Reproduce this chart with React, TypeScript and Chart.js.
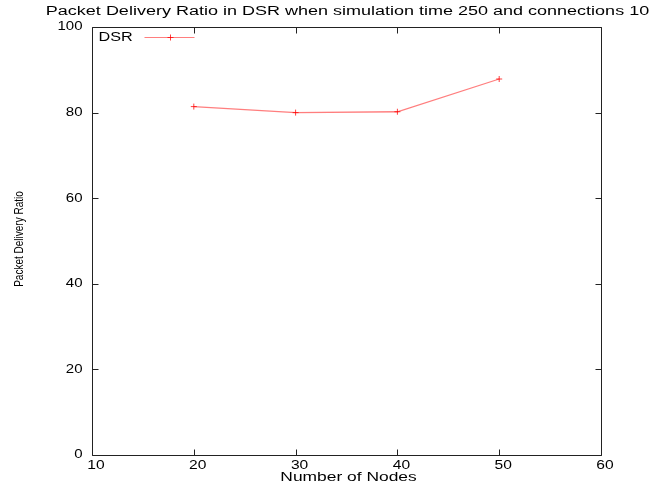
import React, { useEffect, useRef } from "react";
import { Chart, registerables } from "chart.js";

Chart.register(...registerables);

const nodes = [20, 30, 40, 50];
const pdr = [81.4, 80.0, 80.2, 87.85];
const xTicks = [10, 20, 30, 40, 50, 60];
const yTicks = [0, 20, 40, 60, 80, 100];
const titleText = "Packet Delivery Ratio in DSR when simulation time 250 and connections 10";
const xLabel = "Number of Nodes";
const yLabel = "Packet Delivery Ratio";
const seriesName = "DSR";

const FONT = "Liberation Sans, Arial, sans-serif";
const SX = 1.35;
const LINE_COLOR = "rgba(255,40,40,0.6)";
const MARK_COLOR = "rgba(255,0,0,0.75)";

function drawText(
  ctx: CanvasRenderingContext2D,
  text: string,
  x: number,
  y: number,
  opts: { size?: number; align?: CanvasTextAlign; baseline?: CanvasTextBaseline; sx?: number; rotate?: boolean }
) {
  const { size = 12, align = "center", baseline = "middle", sx = SX, rotate = false } = opts;
  ctx.save();
  ctx.translate(x, y);
  if (rotate) ctx.rotate(-Math.PI / 2);
  ctx.scale(sx, 1);
  ctx.font = `${size}px ${FONT}`;
  ctx.fillStyle = "#000";
  ctx.textAlign = align;
  ctx.textBaseline = baseline;
  ctx.fillText(text, 0, 0);
  ctx.restore();
}

const framePlugin = {
  id: "gnuplotFrame",
  afterDraw(chart: any) {
    const { ctx, chartArea } = chart;
    const xs = chart.scales.x;
    const ys = chart.scales.y;
    const L = Math.round(chartArea.left) + 0.5;
    const R = Math.round(chartArea.right) + 0.5;
    const T = Math.round(chartArea.top) + 0.5;
    const B = Math.round(chartArea.bottom) + 0.5;
    ctx.save();
    ctx.strokeStyle = "#222";
    ctx.lineWidth = 1;
    ctx.beginPath();
    ctx.rect(L, T, R - L, B - T);
    ctx.stroke();
    const tl = 6;
    ctx.beginPath();
    xTicks.forEach((v) => {
      const px = Math.round(xs.getPixelForValue(v)) + 0.5;
      ctx.moveTo(px, B);
      ctx.lineTo(px, B - tl);
      ctx.moveTo(px, T);
      ctx.lineTo(px, T + tl);
    });
    yTicks.forEach((v) => {
      const py = Math.round(ys.getPixelForValue(v)) + 0.5;
      ctx.moveTo(L, py);
      ctx.lineTo(L + tl, py);
      ctx.moveTo(R, py);
      ctx.lineTo(R - tl, py);
    });
    ctx.stroke();
    ctx.restore();

    // tick labels
    xTicks.forEach((v) => {
      drawText(ctx, String(v), xs.getPixelForValue(v) + 4, B + 10, { size: 12, sx: 1.3 });
    });
    yTicks.forEach((v) => {
      drawText(ctx, String(v), L - 10, ys.getPixelForValue(v), { size: 12, align: "right", sx: 1.25 });
    });

    const cx = (chartArea.left + chartArea.right) / 2;
    const cy = (chartArea.top + chartArea.bottom) / 2;
    drawText(ctx, titleText, cx + 1, 12, { size: 12, sx: 1.5 });
    drawText(ctx, xLabel, cx + 2, 478, { size: 12, sx: 1.45 });
    drawText(ctx, yLabel, 20, cy - 2, { size: 12.5, rotate: true, sx: 0.8 });

    // legend
    const ly = Math.round(T + 9) + 0.5;
    drawText(ctx, seriesName, L + 6, ly, { size: 12, align: "left" });
    ctx.save();
    ctx.lineWidth = 1.2;
    ctx.strokeStyle = LINE_COLOR;
    ctx.beginPath();
    ctx.moveTo(L + 52, ly);
    ctx.lineTo(L + 102, ly);
    ctx.stroke();
    const mx = Math.round(L + 77) + 0.5;
    ctx.strokeStyle = MARK_COLOR;
    ctx.lineWidth = 1;
    ctx.beginPath();
    ctx.moveTo(mx - 3, ly);
    ctx.lineTo(mx + 3, ly);
    ctx.moveTo(mx, ly - 3);
    ctx.lineTo(mx, ly + 3);
    ctx.stroke();
    ctx.restore();
  },
};

export default function App() {
  const ref = useRef<HTMLCanvasElement | null>(null);
  useEffect(() => {
    if (!ref.current) return;
    const chart = new Chart(ref.current, {
      type: "line",
      data: {
        datasets: [
          {
            label: seriesName,
            data: nodes.map((n, i) => ({ x: n, y: pdr[i] })),
            borderColor: LINE_COLOR,
            borderWidth: 1.3,
            pointStyle: "cross",
            pointRadius: 3,
            pointBorderColor: MARK_COLOR,
            pointBorderWidth: 1,
            fill: false,
            tension: 0,
          },
        ],
      },
      options: {
        animation: false,
        responsive: false,
        devicePixelRatio: 1,
        layout: { padding: { left: 92, right: 48, top: 27, bottom: 33 } },
        plugins: { legend: { display: false }, title: { display: false }, tooltip: { enabled: false } },
        scales: {
          x: { type: "linear", min: 10, max: 60, display: false },
          y: { type: "linear", min: 0, max: 100, display: false },
        },
      },
      plugins: [framePlugin],
    });
    return () => chart.destroy();
  }, []);
  return (
    <canvas
      ref={ref}
      width={649}
      height={488}
      style={{ position: "fixed", left: 0, top: 0, width: 649, height: 488, background: "#fff" }}
    />
  );
}
